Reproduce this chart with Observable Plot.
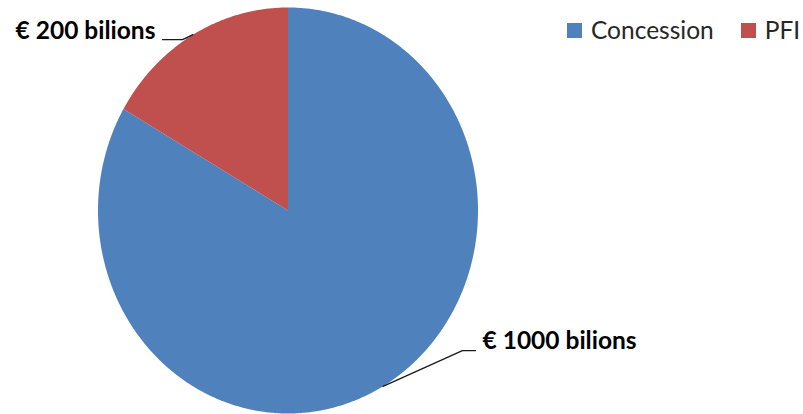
<!DOCTYPE html>
<html>
<head>
<meta charset="utf-8">
<script src="https://cdn.jsdelivr.net/npm/d3@7"></script>
<script src="https://cdn.jsdelivr.net/npm/@observablehq/plot@0.6"></script>
<style>
  html, body { margin: 0; padding: 0; background: #fff; }
  #chart { position: relative; width: 803px; height: 414px; overflow: hidden; }
  #legend { position: absolute; left: 567px; top: 15px; display: flex; align-items: center;
            font-family: Lato, "Open Sans", sans-serif; font-size: 24.5px; line-height: 30px; color: #262626; }
  #legend .item { display: flex; align-items: center; }
  #legend .sw { width: 15px; height: 15px; display: inline-block; margin-right: 9px; }
</style>
</head>
<body>
<div id="chart"></div>
<script>
// ---- data ----
const categories = ["Concession", "PFI"];
const values = [1000, 200];
const labels = ["€ 1000 bilions", "€ 200 bilions"];

// ---- styles / layout ----
const colors = ["#4F81BD", "#C0504D"];
// leader line bend & end, in the chart's unit coordinates
const leaderLayout = [
  {elbow: [0.918, -0.690], end: [0.987, -0.690], anchor: "start", dx: 7, dy: -9},
  {elbow: [-0.555, 0.842], end: [-0.661, 0.842], anchor: "end", dx: -7, dy: -8}
];

const rows = categories.map((c, i) => ({name: c, value: values[i], label: labels[i], color: colors[i]}));
const arcs = d3.pie().sort(null).value(d => d.value)(rows);

// slice polygons
const slices = arcs.map(a => {
  const n = Math.max(2, Math.ceil((a.endAngle - a.startAngle) / (Math.PI / 360)));
  const pts = [{x: 0, y: 0}];
  for (let k = 0; k <= n; k++) {
    const t = a.startAngle + (a.endAngle - a.startAngle) * k / n;
    pts.push({x: Math.sin(t), y: Math.cos(t)});
  }
  return {name: a.data.name, color: a.data.color, pts};
});

// leader lines
const leaders = arcs.map((a, i) => {
  const m = (a.startAngle + a.endAngle) / 2;
  const L = leaderLayout[i];
  return {
    ...L,
    label: a.data.label,
    pts: [{x: Math.sin(m), y: Math.cos(m)}, {x: L.elbow[0], y: L.elbow[1]}, {x: L.end[0], y: L.end[1]}]
  };
});

const marks = [];
for (const s of slices) {
  marks.push(Plot.line(s.pts, {x: "x", y: "y", fill: s.color, stroke: "none", curve: "linear-closed"}));
}
for (const l of leaders) {
  marks.push(Plot.line(l.pts, {x: "x", y: "y", stroke: "#1a1a1a", strokeWidth: 1.3}));
  marks.push(Plot.text([l.pts[2]], {
    x: "x", y: "y", text: () => l.label, textAnchor: l.anchor, dx: l.dx, dy: l.dy,
    fontSize: 24.5, fontWeight: "bold", fontFamily: "Lato, 'Open Sans', sans-serif", fill: "#000"
  }));
}

const svg = Plot.plot({
  width: 803,
  height: 414,
  margin: 0,
  x: {type: "linear", domain: [-1, 1], range: [97.5, 477.5], axis: null},
  y: {type: "linear", domain: [-1, 1], range: [413, 7], axis: null},
  style: {background: "#fff", overflow: "visible"},
  marks
});

const chart = document.getElementById("chart");
chart.appendChild(svg);

// legend
const legend = document.createElement("div");
legend.id = "legend";
rows.forEach((r, i) => {
  const item = document.createElement("span");
  item.className = "item";
  if (i > 0) item.style.marginLeft = "27px";
  const sw = document.createElement("span");
  sw.className = "sw";
  sw.style.background = r.color;
  const tx = document.createElement("span");
  tx.textContent = r.name;
  item.appendChild(sw);
  item.appendChild(tx);
  legend.appendChild(item);
});
chart.appendChild(legend);
</script>
</body>
</html>
